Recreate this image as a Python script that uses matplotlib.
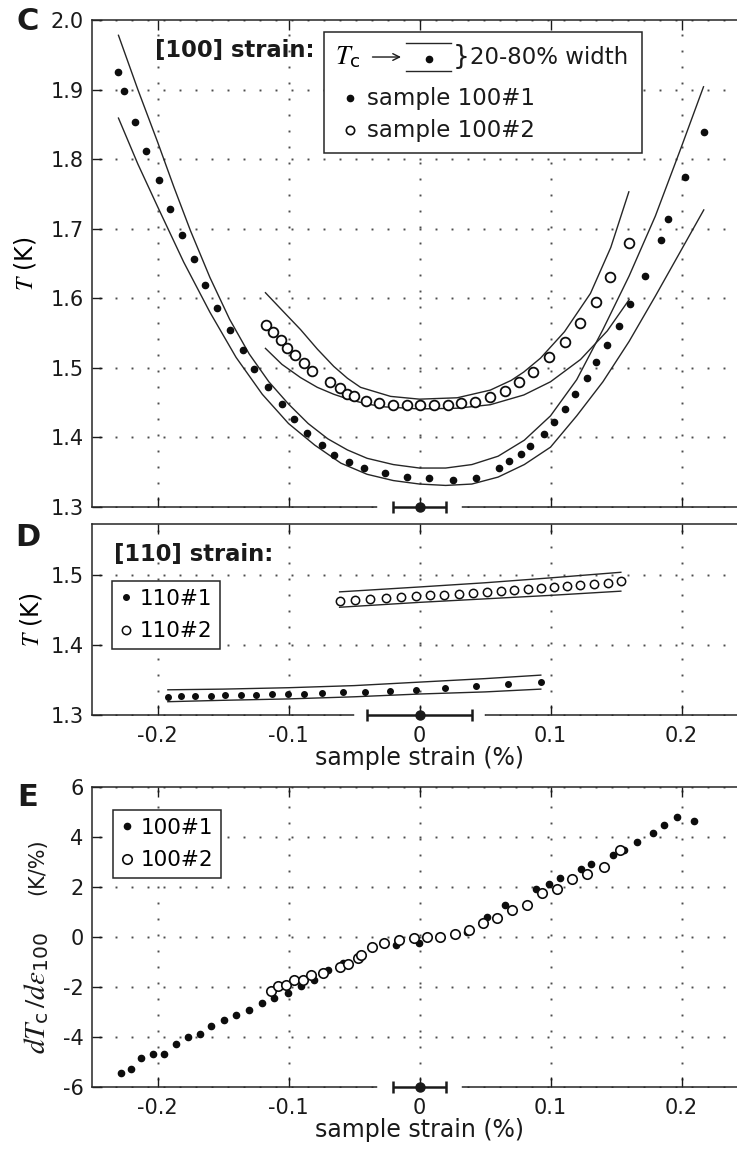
import numpy as np
import matplotlib
matplotlib.use('Agg')
import matplotlib.pyplot as plt

plt.rcParams['font.family'] = 'DejaVu Sans'
plt.rcParams['mathtext.fontset'] = 'stix'
plt.rcParams['axes.unicode_minus'] = False

# ---------------- panel C : [100] strain ----------------
c_x1 = [-0.2305,-0.2252,-0.2168,-0.2084,-0.1992,-0.1908,-0.181,-0.1725,-0.1634,-0.1542,-0.1443,-0.135,
        -0.126,-0.116,-0.1053,-0.096,-0.0855,-0.0748,-0.0649,-0.054,-0.0427,-0.0267,-0.0092,0.0076,
        0.0252,0.0435,0.061,0.0687,0.0771,0.0847,0.0947,0.1023,0.1107,0.119,0.1275,0.1351,0.1435,
        0.152,0.161,0.1718,0.184,0.190,0.203,0.2168]
c_T1 = [1.925,1.898,1.853,1.812,1.770,1.728,1.691,1.656,1.619,1.586,1.555,1.526,1.499,1.473,1.448,
        1.427,1.407,1.389,1.375,1.365,1.356,1.349,1.343,1.341,1.339,1.342,1.356,1.366,1.376,1.387,
        1.405,1.422,1.441,1.463,1.486,1.509,1.533,1.560,1.592,1.632,1.684,1.714,1.774,1.839]
c_x2 = [-0.1168,-0.1122,-0.106,-0.1008,-0.0947,-0.0885,-0.0817,-0.068,-0.061,-0.055,-0.050,-0.041,
        -0.031,-0.0206,-0.0099,0.0,0.0107,0.0214,0.032,0.0427,0.054,0.0649,0.0763,0.087,0.0987,
        0.1107,0.1224,0.1344,0.1458,0.1598]
c_T2 = [1.562,1.552,1.540,1.529,1.519,1.507,1.496,1.479,1.471,1.463,1.460,1.453,1.450,1.447,1.447,
        1.447,1.447,1.447,1.450,1.451,1.458,1.467,1.479,1.494,1.515,1.537,1.565,1.595,1.630,1.679]

# 20% / 80% transition lines
c_hi1_x = [-0.2298,-0.215,-0.2,-0.1875,-0.1748,-0.16,-0.145,-0.13,-0.115,-0.1,-0.085,-0.07,-0.055,
           -0.04,-0.02,0.0,0.02,0.04,0.06,0.08,0.1,0.12,0.14,0.16,0.18,0.2,0.2168]
c_hi1_T = [1.978,1.900,1.825,1.760,1.697,1.630,1.570,1.520,1.480,1.448,1.420,1.398,1.382,1.370,
           1.361,1.356,1.356,1.361,1.373,1.396,1.431,1.483,1.555,1.632,1.718,1.818,1.904]
c_lo1_x = [-0.2298,-0.215,-0.2,-0.18,-0.16,-0.14,-0.12,-0.1,-0.08,-0.06,-0.04,-0.02,0.0,0.02,0.04,
           0.06,0.08,0.1,0.12,0.14,0.16,0.18,0.2,0.217]
c_lo1_T = [1.859,1.793,1.732,1.652,1.580,1.515,1.462,1.420,1.389,1.363,1.347,1.338,1.333,1.331,
           1.333,1.343,1.361,1.386,1.431,1.480,1.538,1.603,1.670,1.727]
c_hi2_x = [-0.1176,-0.105,-0.0908,-0.078,-0.0654,-0.055,-0.045,-0.0221,0.0,0.0288,0.054,0.07,0.0796,
           0.0924,0.1107,0.1305,0.146,0.1598]
c_hi2_T = [1.608,1.583,1.555,1.527,1.502,1.485,1.472,1.459,1.455,1.457,1.468,1.482,1.494,1.514,
           1.552,1.607,1.673,1.753]
c_lo2_x = [-0.1176,-0.105,-0.0908,-0.078,-0.0654,-0.0527,-0.04,-0.0272,0.0,0.0288,0.054,0.0796,0.1,
           0.1229,0.1433,0.16]
c_lo2_T = [1.528,1.505,1.486,1.472,1.462,1.454,1.448,1.444,1.441,1.442,1.447,1.461,1.480,1.512,
           1.553,1.598]

# ---------------- panel D : [110] strain ----------------
d_x1 = [-0.1921,-0.182,-0.1713,-0.1594,-0.1483,-0.1364,-0.1246,-0.1124,-0.1005,-0.088,-0.0747,
        -0.0585,-0.0413,-0.0226,-0.0029,0.0197,0.0431,0.0675,0.0926]
d_T1 = [1.326,1.3267,1.3272,1.3277,1.3282,1.3286,1.3291,1.3296,1.3301,1.3305,1.331,1.3325,1.3334,
        1.3344,1.3363,1.3382,1.341,1.344,1.347]
d_x2 = [-0.0610,-0.0496,-0.0377,-0.0259,-0.0144,-0.0029,0.0079,0.019,0.0298,0.0406,0.0513,0.0621,
        0.0725,0.0826,0.0926,0.1023,0.1124,0.1228,0.1329,0.1436,0.1537]
d_T2 = [1.463,1.4643,1.4657,1.467,1.4683,1.4696,1.4709,1.4722,1.4735,1.4748,1.4761,1.4774,1.4787,
        1.480,1.4813,1.4826,1.4839,1.4853,1.4867,1.488,1.4915]
d_hi1_x = [-0.1921,-0.15,-0.1,-0.05,0.0,0.05,0.0926]
d_hi1_T = [1.336,1.337,1.339,1.342,1.347,1.352,1.357]
d_lo1_x = [-0.1921,-0.15,-0.1,-0.05,0.0,0.05,0.0926]
d_lo1_T = [1.319,1.321,1.323,1.326,1.330,1.333,1.337]
d_hi2_x = [-0.061,0.0,0.05,0.1,0.1537]
d_hi2_T = [1.476,1.483,1.489,1.496,1.504]
d_lo2_x = [-0.061,0.0,0.05,0.1,0.1537]
d_lo2_T = [1.454,1.461,1.466,1.471,1.477]

# ---------------- panel E : dTc/de100 ----------------
e_x1 = [-0.2277,-0.2206,-0.2125,-0.2036,-0.1952,-0.1858,-0.1769,-0.1679,-0.1588,-0.1494,-0.1399,
        -0.1305,-0.1201,-0.1107,-0.1005,-0.0903,-0.0802,-0.07,-0.0585,-0.047,-0.0178,-0.0005,0.0364,
        0.0517,0.0656,0.0893,0.0987,0.1071,0.1234,0.1311,0.1478,0.156,0.1662,0.1781,0.187,0.1967,0.2099]
e_y1 = [-5.43,-5.29,-4.84,-4.69,-4.66,-4.26,-4.00,-3.86,-3.56,-3.33,-3.10,-2.90,-2.62,-2.43,-2.23,
        -1.97,-1.71,-1.33,-1.05,-0.80,-0.33,-0.25,0.21,0.79,1.28,1.92,2.11,2.37,2.71,2.92,3.28,3.48,
        3.81,4.15,4.48,4.81,4.64]
e_x2 = [-0.1137,-0.1081,-0.1018,-0.0959,-0.0891,-0.0827,-0.0733,-0.0606,-0.0542,-0.0471,-0.045,
        -0.0361,-0.0272,-0.0158,-0.0043,0.0059,0.016,0.027,0.0377,0.0486,0.0588,0.0707,0.0822,
        0.0936,0.1051,0.1165,0.128,0.1407,0.1534]
e_y2 = [-2.17,-1.97,-1.93,-1.73,-1.71,-1.53,-1.44,-1.20,-1.07,-0.83,-0.73,-0.39,-0.25,-0.12,-0.05,
        0.01,0.01,0.12,0.28,0.57,0.75,1.08,1.28,1.75,1.91,2.31,2.51,2.81,3.48]

# strain resolution shown at the bottom of each panel
err_100 = 0.02
err_110 = 0.04

xticks = [-0.2, -0.1, 0, 0.1, 0.2]
xtick_labels = ['-0.2', '-0.1', '0', '0.1', '0.2']

W, H = 737, 1149
fig = plt.figure(figsize=(W/100, H/100), dpi=100)

def box(l, t, r, b):
    return [l/W, 1 - b/H, (r-l)/W, (b-t)/H]

axC = fig.add_axes(box(92, 20, 747, 507))
axD = fig.add_axes(box(92, 524, 747, 715))
axE = fig.add_axes(box(92, 787, 747, 1087))

GRID_STEP_PX = 16   # spacing of the grid dots in pixels
grid_dot = dict(ls='none', marker='s', ms=1.4, mew=0, color='0.3', zorder=0.5)

def style(ax):
    ax.set_xlim(-0.25, 0.25)
    ax.set_xticks(xticks)
    ax.tick_params(direction='in', length=7, width=1, top=True, right=True,
                   labelsize=15, colors='0.1')
    ax.tick_params(axis='x', pad=8)
    ax.tick_params(axis='y', pad=6)
    for s in ax.spines.values():
        s.set_linewidth(1.1)
        s.set_color('0.15')

def add_grid(ax):
    # dotted grid: dots placed along each tick line (axes-fraction spacing)
    bb = ax.get_position()
    fx = GRID_STEP_PX / (bb.width * W)
    fy = GRID_STEP_PX / (bb.height * H)
    hx = np.arange(fx / 2, 1, fx)
    vy = np.arange(fy / 2, 1, fy)
    xt = ax.transAxes
    lo, hi = ax.get_xlim()
    for xv in ax.get_xticks():
        f = (xv - lo) / (hi - lo)
        ax.plot(np.full_like(vy, f), vy, transform=xt, **grid_dot)
    lo, hi = ax.get_ylim()
    for yv in ax.get_yticks():
        f = (yv - lo) / (hi - lo)
        ax.plot(hx, np.full_like(hx, f), transform=xt, **grid_dot)

def strain_bar(ax, y0, err, gap):
    ax.plot([-gap, gap], [y0, y0], color='white', lw=4, zorder=3, clip_on=False)
    ax.errorbar([0], [y0], xerr=[err], fmt='o', color='0.1', ms=6.5, capsize=4.5,
                elinewidth=1.8, capthick=1.8, zorder=5, clip_on=False)

band = dict(color='0.15', lw=1.0)
dot = dict(ls='none', marker='o', color='0.05', ms=4.5)
ring = dict(ls='none', marker='o', mfc='white', mec='0.05', ms=7, mew=1.3)

# ---- C ----
style(axC)
axC.set_ylim(1.3, 2.0)
axC.set_yticks(np.arange(1.3, 2.01, 0.1))
axC.set_yticklabels(['1.3', '1.4', '1.5', '1.6', '1.7', '1.8', '1.9', '2.0'])
axC.set_xticklabels([])
add_grid(axC)
for xs, ys in [(c_hi1_x, c_hi1_T), (c_lo1_x, c_lo1_T), (c_hi2_x, c_hi2_T), (c_lo2_x, c_lo2_T)]:
    axC.plot(xs, ys, **band)
axC.plot(c_x1, c_T1, **dot)
axC.plot(c_x2, c_T2, **ring)
strain_bar(axC, 1.3, err_100, 0.03)
axC.set_ylabel(r'$T$ (K)', fontsize=17)
axC.yaxis.set_label_coords(-0.083, 0.5)
axC.text(0.096, 0.938, '[100] strain:', transform=axC.transAxes, fontsize=16.3,
         fontweight='bold', va='center', ha='left', color='0.1')

# hand-built key for panel C
tr = axC.transAxes
axC.add_patch(plt.Rectangle((0.3542, 0.7269), 0.4855, 0.2485, transform=tr,
                            fill=True, fc='white', ec='0.15', lw=1.1, zorder=6))
axC.text(0.371, 0.924, r'$T_\mathregular{c}$', transform=tr, fontsize=19, va='center', zorder=7)
axC.annotate('', xy=(0.476, 0.924), xytext=(0.424, 0.924), xycoords=tr,
             arrowprops=dict(arrowstyle='->', lw=1.0, color='0.1', mutation_scale=12), zorder=7)
axC.plot([0.4794, 0.5481], [0.9528, 0.9528], transform=tr, color='0.15', lw=1.0, zorder=7)
axC.plot([0.4794, 0.5481], [0.8953, 0.8953], transform=tr, color='0.15', lw=1.0, zorder=7)
axC.plot([0.5145], [0.9200], transform=tr, marker='o', color='0.05', ms=4.5, zorder=7)
axC.text(0.551, 0.924, '}', transform=tr, fontsize=19, va='center', zorder=7, color='0.1')
axC.text(0.577, 0.924, '20-80% width', transform=tr, fontsize=16.5, va='center', zorder=7, color='0.1')
axC.plot([0.3939], [0.8398], transform=tr, marker='o', color='0.05', ms=4.5, zorder=7)
axC.text(0.4198, 0.8398, 'sample 100#1', transform=tr, fontsize=16.5, va='center', zorder=7, color='0.1')
axC.plot([0.3939], [0.7741], transform=tr, marker='o', mfc='white', mec='0.05', ms=6, mew=1.2, zorder=7)
axC.text(0.4198, 0.7741, 'sample 100#2', transform=tr, fontsize=16.5, va='center', zorder=7, color='0.1')

legend_kw = dict(loc='upper left', borderaxespad=0, fontsize=15.5, handlelength=0.6,
                 handletextpad=0.35, borderpad=0.35, labelspacing=0.6, fancybox=False,
                 edgecolor='0.15', framealpha=1, numpoints=1)

# ---- D ----
style(axD)
axD.set_ylim(1.3, 1.573)
axD.set_yticks([1.3, 1.4, 1.5])
axD.set_yticklabels(['1.3', '1.4', '1.5'])
axD.set_xticklabels(xtick_labels)
add_grid(axD)
for xs, ys in [(d_hi1_x, d_hi1_T), (d_lo1_x, d_lo1_T), (d_hi2_x, d_hi2_T), (d_lo2_x, d_lo2_T)]:
    axD.plot(xs, ys, **band)
hD1, = axD.plot(d_x1, d_T1, ls='none', marker='o', color='0.05', ms=4)
hD2, = axD.plot(d_x2, d_T2, ls='none', marker='o', mfc='white', mec='0.05', ms=6, mew=1.1)
strain_bar(axD, 1.3, err_110, 0.048)
axD.set_ylabel(r'$T$ (K)', fontsize=17)
axD.yaxis.set_label_coords(-0.073, 0.5)
axD.set_xlabel('sample strain (%)', fontsize=17, labelpad=0, color='0.1')
axD.text(0.034, 0.838, '[110] strain:', transform=axD.transAxes, fontsize=16.3,
         fontweight='bold', va='center', ha='left', color='0.1')
axD.legend([hD1, hD2], ['110#1', '110#2'], bbox_to_anchor=(0.0305, 0.7016),
           **legend_kw).get_frame().set_linewidth(1.1)

# ---- E ----
style(axE)
axE.set_ylim(-6, 6)
axE.set_yticks([-6, -4, -2, 0, 2, 4, 6])
axE.set_yticklabels(['-6', '-4', '-2', '0', '2', '4', '6'])
axE.set_xticklabels(xtick_labels)
add_grid(axE)
hE1, = axE.plot(e_x1, e_y1, **dot)
hE2, = axE.plot(e_x2, e_y2, ls='none', marker='o', mfc='white', mec='0.05', ms=6.8, mew=1.2)
strain_bar(axE, -6, err_100, 0.03)
axE.text(-0.084, 0.313, r'$dT_\mathregular{c}\,/d\varepsilon_\mathregular{100}$', transform=axE.transAxes,
         rotation=90, fontsize=21, ha='center', va='center', color='0.1')
axE.text(-0.084, 0.733, '(K/%)', transform=axE.transAxes, rotation=90, fontsize=15,
         ha='center', va='center', color='0.1')
axE.set_xlabel('sample strain (%)', fontsize=17, labelpad=0, color='0.1')
axE.legend([hE1, hE2], ['100#1', '100#2'], bbox_to_anchor=(0.032, 0.9233),
           **legend_kw).get_frame().set_linewidth(1.1)

# panel letters
for lab, y in [('C', 22), ('D', 537), ('E', 798)]:
    fig.text(28/W, 1 - y/H, lab, fontsize=22, fontweight='bold', ha='center', va='center', color='0.1')

fig.savefig('out.png', dpi=100)
